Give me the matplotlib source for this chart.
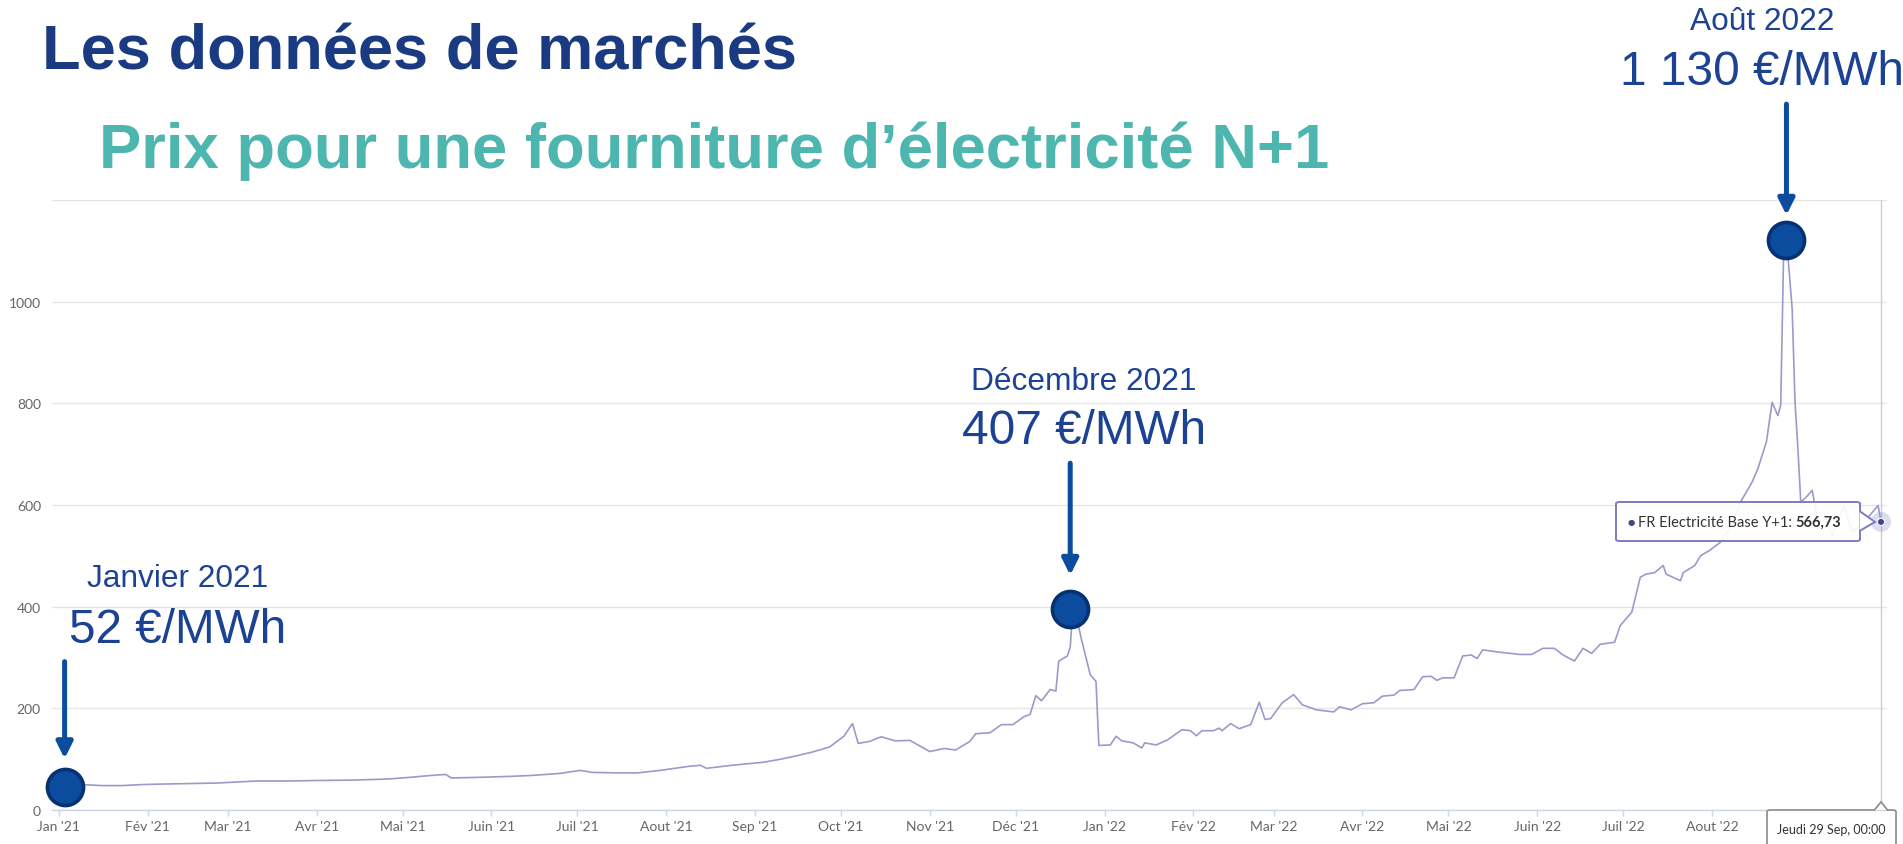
import numpy as np
import matplotlib
matplotlib.use('Agg')
import matplotlib.pyplot as plt
import matplotlib.dates as mdates
from matplotlib.patches import FancyBboxPatch, Polygon, Circle

W, H = 1903, 845
START = np.datetime64('2021-01-01')

# ---------------- data ----------------
day_offsets = [
    3, 8, 15, 22, 29, 36, 45, 55, 62, 69,
    80, 90, 104, 115, 122, 130, 135, 137, 145, 157,
    165, 175, 182, 186, 195, 202, 210, 220, 224, 226,
    235, 246, 252, 257, 263, 269, 274, 277, 279, 283,
    287, 292, 297, 304, 309, 313, 318, 320, 325, 329,
    333, 337, 339, 341, 343, 346, 348, 349, 352, 353,
    354, 356, 357, 360, 362, 363, 367, 369, 371, 375,
    378, 379, 383, 387, 392, 395, 397, 399, 403, 405,
    406, 409, 412, 416, 419, 421, 423, 427, 431, 434,
    439, 445, 447, 451, 455, 459, 462, 466, 468, 473,
    476, 479, 481, 483, 487, 490, 493, 495, 497, 502,
    510, 514, 518, 522, 525, 529, 532, 535, 538, 543,
    545, 549, 552, 554, 557, 560, 561, 566, 567, 571,
    573, 576, 580, 584, 587, 591, 593, 596, 598, 600,
    601, 602, 603, 605, 606, 607, 608, 610, 612, 614,
    617, 619, 623, 626, 630, 635, 636]
prices = [
    52, 50, 48, 48, 50, 51, 52, 53, 55, 57,
    57, 58, 59, 61, 64, 68, 70, 63, 64, 66,
    68, 72, 78, 74, 73, 73, 78, 86, 88, 82,
    88, 94, 100, 106, 114, 124, 145, 170, 131, 135,
    144, 136, 137, 115, 121, 118, 135, 150, 152, 168,
    168, 184, 188, 225, 215, 237, 234, 293, 303, 320,
    400, 359, 334, 266, 253, 127, 128, 145, 136, 132,
    122, 132, 128, 138, 158, 156, 146, 156, 156, 161,
    156, 170, 160, 168, 212, 178, 180, 211, 227, 207,
    197, 193, 203, 197, 209, 211, 224, 226, 235, 237,
    262, 263, 255, 260, 260, 303, 305, 298, 315, 311,
    306, 306, 318, 318, 305, 293, 318, 308, 326, 330,
    363, 389, 458, 464, 467, 481, 464, 451, 467, 481,
    500, 510, 527, 560, 606, 645, 671, 724, 802, 776,
    796, 1091, 1125, 986, 802, 711, 606, 616, 629, 566,
    573, 540, 599, 547, 566, 599, 566.73]

month_ticks = ['2021-01-01', '2021-02-01', '2021-03-01', '2021-04-01', '2021-05-01',
               '2021-06-01', '2021-07-01', '2021-08-01', '2021-09-01', '2021-10-01',
               '2021-11-01', '2021-12-01', '2022-01-01', '2022-02-01', '2022-03-01',
               '2022-04-01', '2022-05-01', '2022-06-01', '2022-07-01', '2022-08-01']
month_labels = ["Jan '21", "Fév '21", "Mar '21", "Avr '21", "Mai '21", "Juin '21",
                "Juil '21", "Aout '21", "Sep '21", "Oct '21", "Nov '21", "Déc '21",
                "Jan '22", "Fév '22", "Mar '22", "Avr '22", "Mai '22", "Juin '22",
                "Juil '22", "Aout '22"]
y_grid = [0, 200, 400, 600, 800, 1000, 1200]
y_labels = ['0', '200', '400', '600', '800', '1000', '']

marker_days = [2, 353, 603]
marker_values = [46, 395, 1121]
annot_titles = ['Janvier 2021', 'Décembre 2021', 'Août 2022']
annot_values = ['52 €/MWh', '407 €/MWh', '1 130 €/MWh']

title = 'Les données de marchés'
subtitle = 'Prix pour une fourniture d\u2019électricité N+1'
series_name = 'FR Electricité Base Y+1: '
last_value_text = '566,73'
last_date_text = 'Jeudi 29 Sep, 00:00'

# ---------------- styling ----------------
NAVY = '#1A3B82'
ANN = '#1B4293'
TEAL = '#4DB6AE'
LINE = '#9A9ACB'
MFACE = '#0B4C9E'
MEDGE = '#07316F'
SANS = 'Liberation Sans'
UI = 'Lato'

dates = START + np.array(day_offsets).astype('timedelta64[D]')
m_dates = START + np.array(marker_days).astype('timedelta64[D]')
tick_dates = np.array(month_ticks, dtype='datetime64[D]')

fig = plt.figure(figsize=(W / 100, H / 100), dpi=100)
fig.patch.set_facecolor('white')

ax_left, ax_right, ax_top, ax_bot = 52, 1887, 201, 811
ax = fig.add_axes([ax_left / W, (H - ax_bot) / H, (ax_right - ax_left) / W, (ax_bot - ax_top) / H])

x0 = mdates.date2num(START)
ax.set_xlim(x0 - 2.4, x0 + 638.1)
ax.set_ylim(0, 1200)

for s in ['top', 'right', 'left']:
    ax.spines[s].set_visible(False)
ax.spines['bottom'].set_color('#ccd6eb')
ax.spines['bottom'].set_linewidth(1)

ax.set_yticks(y_grid, labels=y_labels)
ax.grid(axis='y', color='#e6e6e6', lw=1)
ax.tick_params(axis='y', length=0, pad=8, labelsize=10, labelcolor='#666666')
ax.set_xticks(mdates.date2num(tick_dates.astype('datetime64[s]').astype(object)), labels=month_labels)
ax.tick_params(axis='x', length=4.5, width=1, color='#ccd6eb', pad=3, labelsize=10, labelcolor='#666666')
for lab in ax.get_xticklabels() + ax.get_yticklabels():
    lab.set_fontfamily(UI)
ax.set_axisbelow(True)

ax.plot(dates, prices, color=LINE, lw=1.2, zorder=3)

# crosshair on last point
ax.axvline(dates[-1], color='#cccccc', lw=1, zorder=2)

# big markers
ax.plot(m_dates, marker_values, 'o', ms=26, mfc=MFACE, mec=MEDGE, mew=2.6,
        clip_on=False, zorder=6)

fig.canvas.draw()

def fig_px(xp, yp_top):
    return xp / W, 1 - yp_top / H

# arrows (offsets in pixels above marker centre: tip, tail)
arrow_offsets = [(26, 125), (32, 146), (23, 136)]
for d, v, (tip, tail) in zip(m_dates, marker_values, arrow_offsets):
    xd, yd = ax.transData.transform((mdates.date2num(d.astype('datetime64[s]').astype(object)), v))
    ax.annotate('', xy=(xd, yd + tip + 2), xycoords='figure pixels',
                xytext=(xd, yd + tail), textcoords='figure pixels',
                arrowprops=dict(arrowstyle='-|>,head_length=0.24,head_width=0.12',
                                color=MFACE, lw=3.6, mutation_scale=40,
                                shrinkA=0, shrinkB=0), zorder=7)

# annotation text (centre x, baseline of title, baseline of value)
annot_pos = [(178, 587, 643), (1084, 390, 444), (1762, 30, 85)]
for t, v, (cx, b1, b2) in zip(annot_titles, annot_values, annot_pos):
    fig.text(*fig_px(cx, b1), t, ha='center', va='baseline', fontsize=22.8,
             color=ANN, family=SANS)
    fig.text(*fig_px(cx, b2), v, ha='center', va='baseline', fontsize=34.4,
             color=ANN, family=SANS)

# titles
fig.text(*fig_px(42, 70), title, ha='left', va='baseline', fontsize=45.5,
         fontweight='bold', color=NAVY, family=SANS)
fig.text(*fig_px(99, 168), subtitle, ha='left', va='baseline', fontsize=45.6,
         fontweight='bold', color=TEAL, family=SANS)

# last point highlight
xl, yl = ax.transData.transform((mdates.date2num(dates[-1].astype('datetime64[s]').astype(object)), prices[-1]))
halo = Circle((xl, yl), 10, transform=None, facecolor='#8f8fd0', alpha=0.3, edgecolor='none', zorder=8)
dot = Circle((xl, yl), 3.6, transform=None, facecolor='#434394', edgecolor='white', lw=0.8, zorder=9)
fig.patches.extend([halo, dot])

# tooltip box
bx0, bx1, by0, by1 = 1616, 1860, 503, 542
box = FancyBboxPatch(fig_px(bx0, by1), (bx1 - bx0) / W, (by1 - by0) / H,
                     boxstyle='round,pad=0,rounding_size=0.002', transform=fig.transFigure,
                     facecolor=(1, 1, 1, 0.92), edgecolor='#7c7cbf', lw=1.4, zorder=10)
fig.patches.append(box)
ptr = Polygon([fig_px(bx1 - 0.5, 512), fig_px(xl - 6, H - yl), fig_px(bx1 - 0.5, 532)],
              closed=False, transform=fig.transFigure, facecolor='white',
              edgecolor='#7c7cbf', lw=1.4, zorder=11)
fig.patches.append(ptr)
fig.text(*fig_px(1628, 523), '\u25cf', ha='left', va='center', fontsize=6,
         color='#434394', family='DejaVu Sans', zorder=12)
t1 = fig.text(*fig_px(1638, 523), series_name, ha='left', va='center', fontsize=10.5,
              color='#333333', family=UI, zorder=12)
fig.canvas.draw()
ext = t1.get_window_extent()
fig.text(ext.x1 / W, 1 - 523 / H, last_value_text, ha='left', va='center', fontsize=10.5,
         color='#333333', family=UI, fontweight='bold', zorder=12)

# date label at the bottom
dx0, dx1, dy0, dy1 = 1767, 1896, 811, 852
dbox = FancyBboxPatch(fig_px(dx0, dy1), (dx1 - dx0) / W, (dy1 - dy0) / H,
                      boxstyle='round,pad=0,rounding_size=0.002', transform=fig.transFigure,
                      facecolor='white', edgecolor='#8a8a8a', lw=1.2, zorder=10)
fig.patches.append(dbox)
dptr = Polygon([fig_px(xl - 7, 811.5), fig_px(xl, 803), fig_px(xl + 7, 811.5)],
               closed=False, transform=fig.transFigure, facecolor='white',
               edgecolor='#8a8a8a', lw=1.2, zorder=11)
fig.patches.append(dptr)
fig.text(*fig_px(1831, 830), last_date_text, ha='center', va='center', fontsize=9,
         color='#333333', family=UI, zorder=12)

fig.savefig('out.png', dpi=100, facecolor='white')
